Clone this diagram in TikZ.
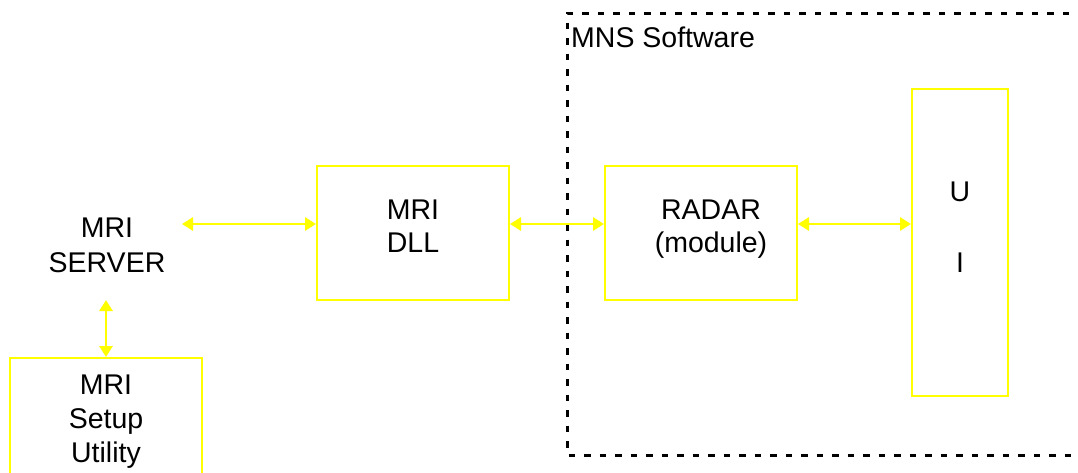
\documentclass[tikz,border=0pt]{standalone}
\usepackage{fontspec}
\setmainfont{Liberation Sans}
\usetikzlibrary{arrows.meta}
\definecolor{boxyellow}{RGB}{255,255,0}
\tikzset{
  box/.style={draw=boxyellow, line width=2pt, rectangle, inner sep=0pt},
  txt/.style={align=center, inner sep=0pt, text=black,
    font=\fontsize{28.5}{33}\selectfont},
  arr/.style={draw=boxyellow, line width=2.8pt,
    {Triangle[length=11pt,width=13pt]}-{Triangle[length=11pt,width=13pt]}},
  group/.style={draw=black, line width=3pt, dash pattern=on 6.5pt off 9pt}
}
\begin{document}
\begin{tikzpicture}[x=1pt,y=-1pt]
\useasboundingbox (0,0) rectangle (1078,472);
% software group frame (runs off the right edge)
\draw[group] (1100,13) -- (567,13) -- (567,455) -- (1100,455);
\node[txt, anchor=base west] (mns) at (571,47.3) {MNS Software};
% blocks
\node[box, minimum width=192pt, minimum height=134pt] (dll) at (413,233) {};
\node[txt] (dlltxt) at (413,226) {MRI\\DLL};
\node[box, minimum width=192pt, minimum height=134pt] (radar) at (701,233) {};
\node[txt] (radartxt) at (711,229) {RADAR\\(module)};
\node[box, minimum width=96pt, minimum height=307pt] (ui) at (960,242.5) {};
\node[txt] (uitxt) at (960,227) {U\\[38pt]I};
\node[box, minimum width=192pt, minimum height=160pt] (setup) at (106,438) {};
\node[txt, font=\fontsize{28.5}{34}\selectfont] (setuptxt) at (106,422) {MRI\\Setup\\Utility};
\node[txt, font=\fontsize{28.5}{35}\selectfont] (server) at (107,245.3) {MRI\\SERVER};
% connectors
\coordinate (srvE) at (182,224);
\coordinate (srvS) at (106,300);
\draw[arr] (srvE) -- (srvE -| dll.west);
\draw[arr] ([yshift=9pt]dll.east) -- ([yshift=9pt]radar.west);
\draw[arr] ([yshift=9pt]radar.east) -- ([yshift=9pt]radar.east -| ui.west);
\draw[arr] (srvS) -- (setup.north);
\end{tikzpicture}
\end{document}
